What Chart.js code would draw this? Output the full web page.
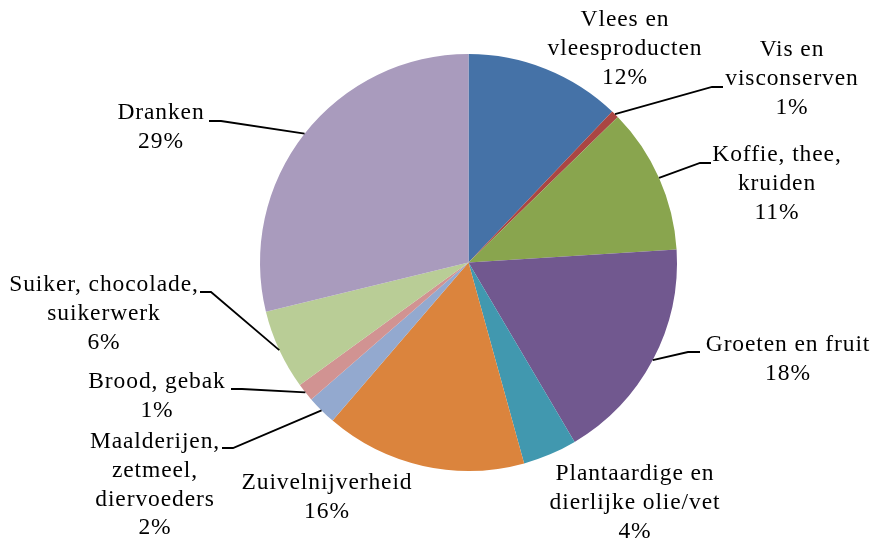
<!DOCTYPE html>
<html>
<head>
<meta charset="utf-8">
<script src="https://cdn.jsdelivr.net/npm/chart.js@4.4.1/dist/chart.umd.min.js"></script>
<style>
  html, body { margin: 0; padding: 0; background: #ffffff; }
  #wrap { width: 874px; height: 540px; position: relative; }
</style>
</head>
<body>
<div id="wrap"><canvas id="c" width="874" height="540"></canvas></div>
<script>
// ---- data ----
const categories = [
  ["Vlees en", "vleesproducten"],
  ["Vis en", "visconserven"],
  ["Koffie, thee,", "kruiden"],
  ["Groeten en fruit"],
  ["Plantaardige en", "dierlijke olie/vet"],
  ["Zuivelnijverheid"],
  ["Maalderijen,", "zetmeel,", "diervoeders"],
  ["Brood, gebak"],
  ["Suiker, chocolade,", "suikerwerk"],
  ["Dranken"]
];
const shares = [12.1, 0.6, 11.3, 17.5, 4.2, 15.6, 2.3, 1.4, 6.2, 28.8];
const colors = ["#4572A7", "#AA4643", "#89A54E", "#71588F", "#4198AF",
                "#DB843D", "#93A9CF", "#D19392", "#B9CD96", "#A99BBD"];

// ---- label layout (text block centre x, first line centre y, optional leader elbow/end) ----
const labelLayout = [
  { x: 625, y: 20 },
  { x: 792, y: 50, elbow: [712, 87], end: [723, 87] },
  { x: 777, y: 155, elbow: [700, 163], end: [711, 163] },
  { x: 788, y: 345, elbow: [688, 352], end: [700, 352] },
  { x: 635, y: 474 },
  { x: 327, y: 483 },
  { x: 155, y: 442, elbow: [233, 448], end: [222, 448] },
  { x: 157, y: 382, elbow: [242, 389], end: [231, 389] },
  { x: 104, y: 285, elbow: [211, 292], end: [200, 292] },
  { x: 161, y: 113, elbow: [221, 121], end: [209, 121] }
];
const LINE_H = 28.7;
const FONT = '23.5px "Liberation Serif", serif';

const labelPlugin = {
  id: 'pieLabels',
  afterDatasetsDraw(chart) {
    const ctx = chart.ctx;
    const meta = chart.getDatasetMeta(0);
    const data = chart.data.datasets[0].data;
    const total = data.reduce((a, b) => a + b, 0);
    ctx.save();
    meta.data.forEach((arc, i) => {
      const p = arc.getProps(['x', 'y', 'startAngle', 'endAngle', 'outerRadius'], true);
      const L = labelLayout[i];
      if (L.elbow) {
        const mid = (p.startAngle + p.endAngle) / 2;
        const sx = p.x + Math.cos(mid) * p.outerRadius;
        const sy = p.y + Math.sin(mid) * p.outerRadius;
        ctx.beginPath();
        ctx.strokeStyle = '#000000';
        ctx.lineWidth = 1.8;
        ctx.moveTo(sx, sy);
        ctx.lineTo(L.elbow[0], L.elbow[1]);
        ctx.lineTo(L.end[0], L.end[1]);
        ctx.stroke();
      }
      const lines = categories[i].concat([Math.round(data[i] / total * 100) + '%']);
      ctx.fillStyle = '#000000';
      ctx.font = FONT;
      if ('letterSpacing' in ctx) ctx.letterSpacing = '0.9px';
      ctx.textAlign = 'center';
      ctx.textBaseline = 'middle';
      lines.forEach((t, k) => ctx.fillText(t, L.x, L.y + k * LINE_H));
    });
    ctx.restore();
  }
};

new Chart(document.getElementById('c'), {
  type: 'pie',
  data: {
    labels: categories.map(c => c.join(' ')),
    datasets: [{
      data: shares,
      backgroundColor: colors,
      borderWidth: 0
    }]
  },
  options: {
    responsive: false,
    animation: false,
    rotation: 0,
    layout: { padding: { left: 260, right: 197, top: 54, bottom: 69 } },
    plugins: { legend: { display: false }, tooltip: { enabled: false } }
  },
  plugins: [labelPlugin]
});
</script>
</body>
</html>
